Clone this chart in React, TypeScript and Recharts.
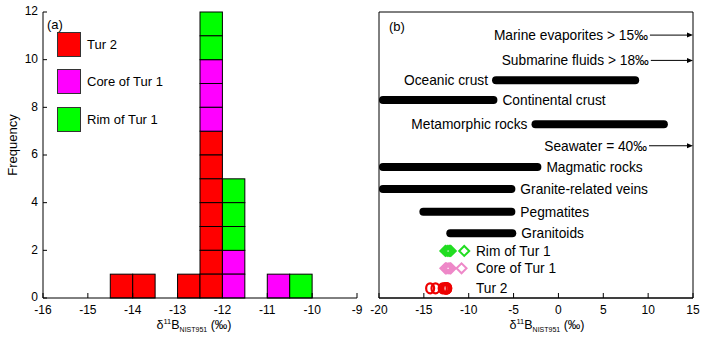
import React from 'react'
import { ComposedChart, Bar, XAxis, YAxis, Scatter, ReferenceLine, ReferenceArea, Legend } from 'recharts'

const FONT = '"Liberation Sans", Arial, Helvetica, sans-serif'

// (a) histogram, 0.5 permil bins
const binCenters = [-14.25, -13.75, -12.75, -12.25, -11.75, -10.75, -10.25]
const tur2Counts = [1, 1, 1, 7, 0, 0, 0]
const coreCounts = [0, 0, 0, 3, 2, 1, 0]
const rimCounts = [0, 0, 0, 2, 3, 0, 1]
const histTicksX = [-16, -15, -14, -13, -12, -11, -10, -9]
const histTicksY = [0, 2, 4, 6, 8, 10, 12]
const legendNames = ['Tur 2', 'Core of Tur 1', 'Rim of Tur 1']

// (b) reservoir ranges
const rangeNames = ['Oceanic crust', 'Continental crust', 'Metamorphic rocks', 'Magmatic rocks', 'Granite-related veins', 'Pegmatites', 'Granitoids']
const rangeMin = [-7.4, -20, -3, -20, -20, -15.5, -12.5]
const rangeMax = [9, -6.8, 12.2, -1.9, -4.8, -4.8, -4.7]
const rangeLevel = [9.9, 9.0, 7.9, 5.95, 4.95, 3.92, 2.94]
const rangeSide = ['left', 'right', 'left', 'right', 'right', 'right', 'right']

const arrowNames = ['Marine evaporites > 15‰', 'Submarine fluids > 18‰', 'Seawater = 40‰']
const arrowFrom = [10.2, 10.3, 10.1]
const arrowLevel = [11.95, 10.8, 6.92]

// (b) measured tourmaline
const markerNames = ['Rim of Tur 1', 'Core of Tur 1', 'Tur 2']
const markerLevel = [2.14, 1.35, 0.44]
const rimValues = [-12.6, -12.4, -12.2, -12.1, -12.0, -10.5]
const coreValues = [-12.6, -12.5, -12.3, -12.1, -12.0, -10.8]
const tur2Values = [-14.3, -13.7, -12.9, -12.7, -12.6, -12.6, -12.5, -12.5, -12.4, -12.4]
const markerLabelX = -9.2
const rangeTicksX = [-20, -15, -10, -5, 0, 5, 10, 15]

const histData = binCenters.map((x, i) => ({ x, tur2: tur2Counts[i], core: coreCounts[i], rim: rimCounts[i] }))
const rimPts = rimValues.map(x => ({ x, y: markerLevel[0] }))
const corePts = coreValues.map(x => ({ x, y: markerLevel[1] }))
const tur2Pts = tur2Values.map(x => ({ x, y: markerLevel[2] }))
const markerLabelPts = markerNames.map((name, i) => ({ x: markerLabelX, y: markerLevel[i], name }))

const tickStyle = { fill: '#000', fontSize: 12, fontFamily: FONT }
const LABEL_SIZE = 13.75

const UnitBoxes = (p: any) => {
  const { x, y, width, height, fill, count } = p
  if (!count || !height) return null
  const h = height / count
  return (
    <g>
      {Array.from({ length: count }, (_, i) => (
        <rect key={i} x={x} y={y + i * h} width={width} height={h} fill={fill} stroke="#000" strokeWidth={1} />
      ))}
    </g>
  )
}

const DeltaTitle = ({ viewBox, dx }: any) => {
  const { x, y, width } = viewBox
  return (
    <text x={x + width / 2 + dx} y={y + 31} textAnchor="middle" fontSize={12.5} fontFamily={FONT} fill="#000">
      δ<tspan dy={-5} fontSize={7.5}>11</tspan>
      <tspan dy={5}>B</tspan>
      <tspan dy={3} fontSize={7}>NIST951</tspan>
      <tspan dy={-3}> (‰)</tspan>
    </text>
  )
}

const FreqTitle = ({ viewBox }: any) => {
  const cx = viewBox.x - 1
  const cy = viewBox.y + viewBox.height / 2 - 10
  return (
    <text x={cx} y={cy} transform={`rotate(-90, ${cx}, ${cy})`} textAnchor="middle" dy="0.35em" fontSize={13} fontFamily={FONT} fill="#000">
      Frequency
    </text>
  )
}

const HistLegend = ({ payload }: any) => {
  const items = legendNames.map(n => (payload || []).find((e: any) => e.value === n)).filter(Boolean)
  return (
    <div style={{ fontFamily: FONT, fontSize: 13, color: '#000' }}>
      {items.map((e: any) => (
        <div key={e.value} style={{ display: 'flex', alignItems: 'center', height: 24, marginBottom: 13.5 }}>
          <span style={{ width: 22, height: 23, background: e.color, border: '1px solid #333', display: 'inline-block' }} />
          <span style={{ marginLeft: 6 }}>{e.value}</span>
        </div>
      ))}
    </div>
  )
}

const RangeBar = (p: any) => {
  const { x1, x2, y1, name, side } = p
  const left = Math.min(x1, x2)
  const w = Math.abs(x2 - x1)
  return (
    <g>
      <rect x={left} y={y1 - 4} width={w} height={8} rx={4} fill="#000" />
      <text x={side === 'left' ? left - 4 : left + w + 5} y={y1} dy="0.35em" textAnchor={side === 'left' ? 'end' : 'start'} fontSize={LABEL_SIZE} fontFamily={FONT} fill="#000">
        {name}
      </text>
    </g>
  )
}

const ArrowRow = (p: any) => {
  const { x1, x2, y1, name } = p
  return (
    <g>
      <line x1={x1} y1={y1} x2={x2 - 4} y2={y1} stroke="#000" strokeWidth={1} />
      <path d={`M${x2},${y1} L${x2 - 6},${y1 - 2.5} L${x2 - 6},${y1 + 2.5} Z`} fill="#000" />
      <text x={x1 - 2} y={y1} dy="0.35em" textAnchor="end" fontSize={LABEL_SIZE} fontFamily={FONT} fill="#000">
        {name}
      </text>
    </g>
  )
}

const Diamond = (color: string) => (p: any) => (
  <path d={`M${p.cx - 5},${p.cy} L${p.cx},${p.cy - 5} L${p.cx + 5},${p.cy} L${p.cx},${p.cy + 5} Z`} fill="none" stroke={color} strokeWidth={2} />
)

const Ring = (color: string) => (p: any) => (
  <ellipse cx={p.cx} cy={p.cy} rx={4} ry={5} fill="none" stroke={color} strokeWidth={2.2} />
)

const MarkerLabel = (p: any) => (
  <text x={p.cx} y={p.cy} dy="0.35em" fontSize={LABEL_SIZE} fontFamily={FONT} fill="#000">
    {p.payload.name}
  </text>
)

function Histogram() {
  return (
    <ComposedChart width={368} height={340} data={histData} margin={{ top: 12, right: 11, bottom: 2, left: 13 }}>
      <XAxis
        dataKey="x"
        type="number"
        domain={[-16, -9]}
        ticks={histTicksX}
        height={40}
        tick={tickStyle}
        tickSize={-5}
        tickMargin={12}
        stroke="#000"
        label={(p: any) => <DeltaTitle {...p} dx={-6} />}
      />
      <YAxis
        type="number"
        domain={[0, 12]}
        ticks={histTicksY}
        width={30}
        tick={{ ...tickStyle, dy: -1 }}
        tickSize={-4}
        tickMargin={9}
        stroke="#000"
        label={(p: any) => <FreqTitle {...p} />}
      />
      <Legend
        layout="vertical"
        align="center"
        verticalAlign="middle"
        content={<HistLegend />}
        wrapperStyle={{ position: 'absolute', left: 57, top: 32, width: 'auto' }}
      />
      <Bar dataKey="tur2" name="Tur 2" stackId="s" fill="#ff0000" barSize={22.4} isAnimationActive={false}
        shape={(p: any) => <UnitBoxes {...p} count={p.payload.tur2} />} />
      <Bar dataKey="core" name="Core of Tur 1" stackId="s" fill="#ff00ff" barSize={22.4} isAnimationActive={false}
        shape={(p: any) => <UnitBoxes {...p} count={p.payload.core} />} />
      <Bar dataKey="rim" name="Rim of Tur 1" stackId="s" fill="#00ff00" barSize={22.4} isAnimationActive={false}
        shape={(p: any) => <UnitBoxes {...p} count={p.payload.rim} />} />
    </ComposedChart>
  )
}

function Reservoirs() {
  return (
    <ComposedChart width={348} height={340} margin={{ top: 12, right: 20, bottom: 2, left: 14 }}>
      <XAxis
        dataKey="x"
        type="number"
        domain={[-20, 15]}
        ticks={rangeTicksX}
        height={40}
        tick={tickStyle}
        tickSize={-5}
        tickMargin={12}
        stroke="#000"
        label={(p: any) => <DeltaTitle {...p} dx={11} />}
      />
      <YAxis dataKey="y" type="number" domain={[0, 13]} hide />
      <ReferenceArea x1={-20} x2={15} y1={0} y2={13} fill="none" stroke="#000" strokeWidth={1} fillOpacity={0} />
      {rangeNames.map((name, i) => (
        <ReferenceLine
          key={name}
          segment={[{ x: rangeMin[i], y: rangeLevel[i] }, { x: rangeMax[i], y: rangeLevel[i] }]}
          shape={(p: any) => <RangeBar {...p} name={name} side={rangeSide[i]} />}
        />
      ))}
      {arrowNames.map((name, i) => (
        <ReferenceLine
          key={name}
          segment={[{ x: arrowFrom[i], y: arrowLevel[i] }, { x: 15, y: arrowLevel[i] }]}
          shape={(p: any) => <ArrowRow {...p} name={name} />}
        />
      ))}
      <Scatter data={rimPts} shape={Diamond('#22dd22')} isAnimationActive={false} />
      <Scatter data={corePts} shape={Diamond('#ee88c8')} isAnimationActive={false} />
      <Scatter data={tur2Pts} shape={Ring('#ee0000')} isAnimationActive={false} />
      <Scatter data={markerLabelPts} shape={MarkerLabel} isAnimationActive={false} />
    </ComposedChart>
  )
}

export default function App() {
  return (
    <div style={{ position: 'absolute', left: 0, top: 0, width: 713, height: 340, background: '#fff', fontFamily: FONT }}>
      <div style={{ position: 'absolute', left: 0, top: 0 }}>
        <Histogram />
      </div>
      <div style={{ position: 'absolute', left: 365, top: 0 }}>
        <Reservoirs />
      </div>
      <span style={{ position: 'absolute', left: 47, top: 17, fontSize: 13, color: '#000' }}>(a)</span>
      <span style={{ position: 'absolute', left: 389, top: 19, fontSize: 13, color: '#000' }}>(b)</span>
    </div>
  )
}
